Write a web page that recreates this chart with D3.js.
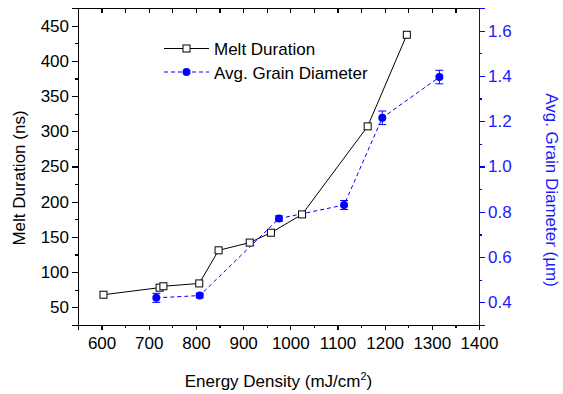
<!DOCTYPE html>
<meta charset="utf-8">
<style>
    body { margin: 0; background: #fff; }
    svg { font-family: "Liberation Sans", Arial, sans-serif; }
    .axis path, .axis line { shape-rendering: crispEdges; }
    .axis text { font-size: 17px; }
    .axis--right path, .axis--right line { stroke: #0000ff; }
    .axis--right text { fill: #1a1aff; }
</style>
<svg width="563" height="394"></svg>
<script src="https://cdn.jsdelivr.net/npm/d3@7"></script>
<script>

// melt duration series (ns), x = energy density (mJ/cm2)
var meltEnergy = [604, 723, 731, 807, 848, 914, 959, 1025, 1164, 1247];
var meltDuration = [68, 78, 80, 84, 131, 142, 156, 182, 307, 437];

// average grain diameter series (um) with error bars
var grainEnergy = [716, 808, 976, 1114, 1195, 1316];
var grainDiameter = [0.42, 0.43, 0.77, 0.83, 1.215, 1.395];
var grainError = [0.02, 0.01, 0.012, 0.02, 0.03, 0.03];

var xTicks = [600, 700, 800, 900, 1000, 1100, 1200, 1300, 1400];
var leftTicks = [50, 100, 150, 200, 250, 300, 350, 400, 450];
var rightTicks = [0.4, 0.6, 0.8, 1.0, 1.2, 1.4, 1.6];

var svg = d3.select("svg"),
    margin = {top: 8, right: 84, bottom: 69, left: 78},
    width = svg.attr("width") - margin.left - margin.right,
    height = svg.attr("height") - margin.top - margin.bottom;

var x = d3.scaleLinear().domain([550, 1400]).range([0, width]),
    yL = d3.scaleLinear().domain([25, 475]).range([height, 0]),
    yR = d3.scaleLinear().domain([0.3, 1.7]).range([height, 0]);

var blue = "#0000ff";

var g = svg.append("g")
    .attr("transform", "translate(" + margin.left + "," + margin.top + ")");

var melt = meltEnergy.map(function(e, i) { return {x: e, y: meltDuration[i]}; });
var grain = grainEnergy.map(function(e, i) { return {x: e, y: grainDiameter[i], err: grainError[i]}; });

// minor ticks first, then the major ones on top
function minor(axis, scale, vals) {
    return axis(scale).tickValues(vals).tickSize(3).tickFormat("");
}

g.append("g").attr("class", "axis axis--x")
    .attr("transform", "translate(0," + height + ")")
    .call(minor(d3.axisBottom, x, d3.range(650, 1400, 100)));
g.append("g").attr("class", "axis axis--x")
    .attr("transform", "translate(0," + height + ")")
    .call(d3.axisBottom(x).tickValues(xTicks).tickSize(5).tickPadding(7).tickFormat(d3.format("d")));

g.append("g").attr("class", "axis axis--top")
    .call(d3.axisTop(x).tickValues(d3.range(600, 1400, 50)).tickSize(-5).tickFormat(""));

g.append("g").attr("class", "axis axis--left")
    .call(minor(d3.axisLeft, yL, d3.range(75, 475, 50)));
g.append("g").attr("class", "axis axis--left")
    .call(d3.axisLeft(yL).tickValues(leftTicks).tickSize(6).tickPadding(3));

g.append("g").attr("class", "axis axis--right")
    .attr("transform", "translate(" + width + ",0)")
    .call(minor(d3.axisRight, yR, [0.3, 0.5, 0.7, 0.9, 1.1, 1.3, 1.5]));
g.append("g").attr("class", "axis axis--right")
    .attr("transform", "translate(" + width + ",0)")
    .call(d3.axisRight(yR).tickValues(rightTicks).tickSize(6).tickPadding(3).tickFormat(d3.format(".1f")));

g.selectAll(".axis path").attr("stroke-width", 1.5);
g.selectAll(".axis line").attr("stroke-width", 1.2);

// grain diameter: dashed blue line, error bars, dots
g.append("path")
    .datum(grain)
    .attr("fill", "none")
    .attr("stroke", blue)
    .attr("stroke-width", 1)
    .attr("stroke-dasharray", "4,3")
    .attr("d", d3.line().x(function(d) { return x(d.x); }).y(function(d) { return yR(d.y); }));

var eb = g.selectAll(".err").data(grain).enter().append("g").attr("class", "err")
    .attr("stroke", blue).attr("stroke-width", 1);
eb.append("line")
    .attr("x1", function(d) { return x(d.x); }).attr("x2", function(d) { return x(d.x); })
    .attr("y1", function(d) { return yR(d.y - d.err); }).attr("y2", function(d) { return yR(d.y + d.err); });
eb.append("line")
    .attr("x1", function(d) { return x(d.x) - 4; }).attr("x2", function(d) { return x(d.x) + 4; })
    .attr("y1", function(d) { return yR(d.y + d.err); }).attr("y2", function(d) { return yR(d.y + d.err); });
eb.append("line")
    .attr("x1", function(d) { return x(d.x) - 4; }).attr("x2", function(d) { return x(d.x) + 4; })
    .attr("y1", function(d) { return yR(d.y - d.err); }).attr("y2", function(d) { return yR(d.y - d.err); });

g.selectAll(".dot").data(grain).enter().append("circle")
    .attr("class", "dot")
    .attr("cx", function(d) { return x(d.x); })
    .attr("cy", function(d) { return yR(d.y); })
    .attr("r", 4)
    .attr("fill", blue);

// melt duration: solid black line with open squares
g.append("path")
    .datum(melt)
    .attr("fill", "none")
    .attr("stroke", "#000")
    .attr("stroke-width", 1)
    .attr("d", d3.line().x(function(d) { return x(d.x); }).y(function(d) { return yL(d.y); }));

g.selectAll(".sq").data(melt).enter().append("rect")
    .attr("class", "sq")
    .attr("x", function(d) { return x(d.x) - 3.5; })
    .attr("y", function(d) { return yL(d.y) - 3.5; })
    .attr("width", 7).attr("height", 7)
    .attr("fill", "#fff")
    .attr("stroke", "#000")
    .attr("stroke-width", 1);

// axis titles
svg.append("text")
    .attr("x", margin.left + width / 2).attr("y", 387)
    .attr("text-anchor", "middle")
    .style("font-size", "17px")
    .text("Energy Density (mJ/cm")
    .append("tspan").attr("dy", -7).style("font-size", "11px").text("2")
    .select(function() { return this.parentNode; })
    .append("tspan").attr("dy", 7).text(")");

svg.append("text")
    .attr("transform", "translate(25,178) rotate(-90)")
    .attr("text-anchor", "middle")
    .style("font-size", "17px")
    .text("Melt Duration (ns)");

svg.append("text")
    .attr("transform", "translate(546,190) rotate(90)")
    .attr("text-anchor", "middle")
    .style("font-size", "17px")
    .attr("fill", "#1a1aff")
    .text("Avg. Grain Diameter (\u00b5m)");

// legend
var legend = svg.append("g").attr("transform", "translate(164,0)");
var rows = [
    {name: "Melt Duration", y: 48.5, dash: null, color: "#000", mark: "sq"},
    {name: "Avg. Grain Diameter", y: 72, dash: "4,3", color: blue, mark: "dot"}
];
rows.forEach(function(r) {
    legend.append("line")
        .attr("x1", 0).attr("x2", 45).attr("y1", r.y).attr("y2", r.y)
        .attr("stroke", r.color).attr("stroke-width", 1)
        .attr("stroke-dasharray", r.dash);
    if (r.mark == "sq") {
        legend.append("rect").attr("x", 19).attr("y", r.y - 3.5).attr("width", 7).attr("height", 7)
            .attr("fill", "#fff").attr("stroke", "#000");
    } else {
        legend.append("circle").attr("cx", 22.5).attr("cy", r.y).attr("r", 4).attr("fill", blue);
    }
    legend.append("text")
        .attr("x", 50).attr("y", r.y + 6.5)
        .style("font-size", "17px")
        .text(r.name);
});

</script>
